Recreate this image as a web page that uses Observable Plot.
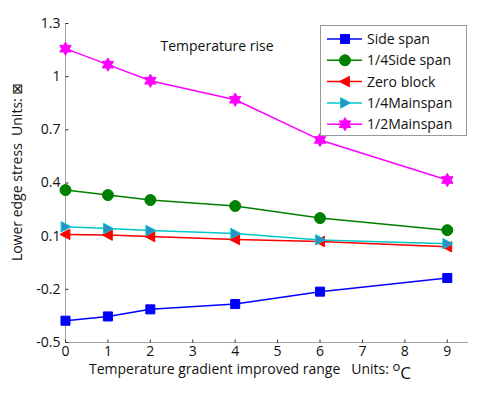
<!DOCTYPE html>
<html><head><meta charset="utf-8">
<script src="https://cdn.jsdelivr.net/npm/d3@7"></script>
<script src="https://cdn.jsdelivr.net/npm/@observablehq/plot@0.6"></script>
<style>
body{margin:0;background:#fff;}
#chart{width:500px;height:408px;}
</style></head><body><div id="chart"></div>
<script>
// ---- data ----
const xValues = [0, 1, 2, 4, 6, 9];
const sideSpan    = [-0.377, -0.353, -0.313, -0.283, -0.213, -0.136];
const quarterSide = [0.360, 0.332, 0.304, 0.270, 0.202, 0.134];
const zeroBlock   = [0.110, 0.106, 0.098, 0.081, 0.070, 0.040];
const quarterMain = [0.153, 0.143, 0.132, 0.115, 0.079, 0.057];
const halfMain    = [1.158, 1.068, 0.977, 0.870, 0.643, 0.417];
const seriesNames = ["Side span", "1/4Side span", "Zero block", "1/4Mainspan", "1/2Mainspan"];
const xTicks = [0, 1, 2, 3, 4, 5, 6, 7, 8, 9];
const yTicks = [-0.5, -0.2, 0.1, 0.4, 0.7, 1, 1.3];
const titleText = "Temperature rise";

// ---- symbols ----
const hexagram = {draw(ctx, size) {
  const R = Math.sqrt(size / Math.PI) * 1.2, r0 = R / Math.sqrt(3);
  for (let i = 0; i < 12; i++) {
    const a = i * Math.PI / 6 - Math.PI / 2, rr = i % 2 ? r0 : R;
    const px = rr * Math.cos(a), py = rr * Math.sin(a);
    i ? ctx.lineTo(px, py) : ctx.moveTo(px, py);
  }
  ctx.closePath();
}};
const triLeft = {draw(ctx, size) {
  const s = Math.sqrt(size / Math.PI);
  ctx.moveTo(-s, 0); ctx.lineTo(s * 0.8, -s * 0.95); ctx.lineTo(s * 0.8, s * 0.95); ctx.closePath();
}};
const triRight = {draw(ctx, size) {
  const s = Math.sqrt(size / Math.PI);
  ctx.moveTo(s, 0); ctx.lineTo(-s * 0.8, -s * 0.95); ctx.lineTo(-s * 0.8, s * 0.95); ctx.closePath();
}};
const tickRight = {draw(ctx) { ctx.moveTo(0, 0); ctx.lineTo(3, 0); }};
const tickUp = {draw(ctx) { ctx.moveTo(0, 0); ctx.lineTo(0, -3); }};

const seriesValues = [sideSpan, quarterSide, zeroBlock, quarterMain, halfMain];
const styles = [
  {stroke: "#0000ff", fill: "#0000ff", symbol: "square", r: 5.1},
  {stroke: "#008000", fill: "#008000", symbol: "circle", r: 5.5},
  {stroke: "#ff0000", fill: "#ff0000", symbol: triLeft, r: 5.5},
  {stroke: "#00c8c8", fill: "#2a8fc4", symbol: triRight, r: 5.5},
  {stroke: "#ff00ff", fill: "#ff00ff", symbol: hexagram, r: 5.5}
];
const series = seriesNames.map((name, k) => xValues.map((x, i) => ({x, y: seriesValues[k][i], name})));

const font = "'Open Sans', 'DejaVu Sans', sans-serif";
const fmt = d => String(d);

const marks = [
  Plot.ruleX([0], {stroke: "#a0a0a0"}),
  Plot.ruleY([-0.5], {stroke: "#a0a0a0"}),
  Plot.dot(yTicks, {x: () => 0, y: d => d, symbol: tickRight, stroke: "#333", strokeWidth: 1}),
  Plot.dot(xTicks, {x: d => d, y: () => -0.5, symbol: tickUp, stroke: "#333", strokeWidth: 1}),
  Plot.axisY({ticks: yTicks, tickSize: 0, tickPadding: 5, tickFormat: fmt, fontSize: 14, label: null}),
  Plot.axisX({ticks: xTicks, tickSize: 0, tickPadding: 4, tickFormat: fmt, fontSize: 14, label: null}),
  Plot.text([titleText], {text: d => d, frameAnchor: "top", dx: -50, dy: 18, fontSize: 14, fill: "#111"})
];
series.forEach((data, k) => {
  const s = styles[k];
  marks.push(Plot.line(data, {x: "x", y: "y", stroke: s.stroke, strokeWidth: 1.5}));
});
series.forEach((data, k) => {
  const s = styles[k];
  marks.push(Plot.dot(data, {x: "x", y: "y", symbol: s.symbol, r: s.r, fill: s.fill, stroke: s.stroke, strokeWidth: 1}));
});

const plot = Plot.plot({
  width: 500, height: 408,
  marginLeft: 65, marginRight: 32, marginTop: 23, marginBottom: 66,
  x: {type: "linear", domain: [0, 9.5]},
  y: {type: "linear", domain: [-0.5, 1.3]},
  style: {fontFamily: font, fontSize: "14px", color: "#111", background: "#fff"},
  marks
});
document.getElementById("chart").append(plot);

// ---- labels & legend ----
const svg = d3.select(plot);
svg.append("text").attr("x", 0).attr("y", 0)
  .attr("transform", "translate(22,172) rotate(-90)")
  .attr("text-anchor", "middle").attr("font-family", font).attr("font-size", 14).attr("fill", "#111")
  .text("Lower edge stress  Units: \u22A0");

const xl = svg.append("text").attr("x", 250).attr("y", 374)
  .attr("text-anchor", "middle").attr("font-family", font).attr("font-size", 14).attr("fill", "#111");
xl.append("tspan").text("Temperature gradient improved range   Units: ");
xl.append("tspan").attr("dy", -3).attr("font-size", 13).text("o");
xl.append("tspan").attr("dy", 8).attr("font-size", 17).text("C");

const lg = svg.append("g");
lg.append("rect").attr("x", 320.5).attr("y", 25.5).attr("width", 146).attr("height", 110)
  .attr("fill", "#fff").attr("stroke", "#999");
seriesNames.forEach((name, k) => {
  const s = styles[k], cy = 39 + k * 21.3;
  lg.append("line").attr("x1", 327).attr("x2", 362).attr("y1", cy).attr("y2", cy)
    .attr("stroke", s.stroke).attr("stroke-width", 1.5);
  const sym = typeof s.symbol === "string" ? (s.symbol === "square" ? d3.symbolSquare : d3.symbolCircle) : s.symbol;
  lg.append("path").attr("transform", `translate(345,${cy})`)
    .attr("d", d3.symbol(sym, s.r * s.r * Math.PI)())
    .attr("fill", s.fill).attr("stroke", s.stroke);
  lg.append("text").attr("x", 367).attr("y", cy).attr("dy", "0.35em").attr("text-anchor", "start")
    .attr("font-family", font).attr("font-size", 14).attr("fill", "#111").text(name);
});
</script></body></html>
